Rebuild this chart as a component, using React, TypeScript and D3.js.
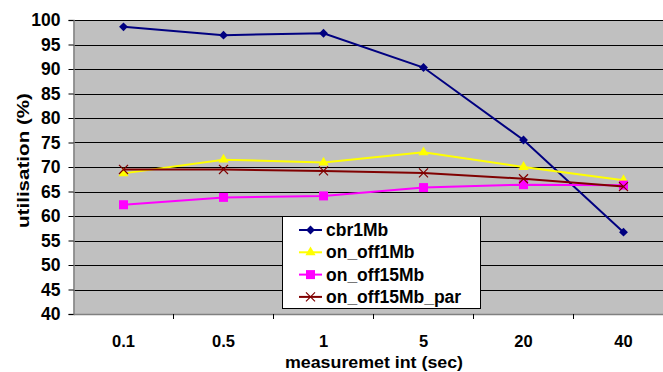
import React, { useEffect, useRef } from 'react';
import * as d3 from 'd3';

const categories = ['0.1', '0.5', '1', '5', '20', '40'];
const cbr1Mb = [98.6, 96.9, 97.3, 90.3, 75.5, 56.7];
const onOff1Mb = [68.7, 71.5, 70.9, 73.0, 70.0, 67.3];
const onOff15Mb = [62.3, 63.8, 64.1, 65.8, 66.4, 66.3];
const onOff15MbPar = [69.5, 69.5, 69.2, 68.8, 67.6, 66.0];
const yTicks = [40, 45, 50, 55, 60, 65, 70, 75, 80, 85, 90, 95, 100];

const series = [
  { name: 'cbr1Mb', values: cbr1Mb, color: '#000080', marker: 'diamond' },
  { name: 'on_off1Mb', values: onOff1Mb, color: '#FFFF00', marker: 'triangle' },
  { name: 'on_off15Mb', values: onOff15Mb, color: '#FF00FF', marker: 'square' },
  { name: 'on_off15Mb_par', values: onOff15MbPar, color: '#800000', marker: 'cross' },
];

const FONT = '"Liberation Sans", Arial, sans-serif';

const App = () => {
  const ref = useRef<SVGSVGElement>(null);

  useEffect(() => {
    const svg = d3.select(ref.current).attr('width', 663).attr('height', 372);
    svg.selectAll('*').remove();

    const left = 73.5, right = 673.5, top = 20, bottom = 314;

    const x = d3.scaleBand<string>().domain(categories).range([left, right]);
    const y = d3.scaleLinear().domain([40, 100]).range([bottom, top]);

    // plot background
    svg.append('rect')
      .attr('x', left).attr('y', top)
      .attr('width', right - left).attr('height', bottom - top)
      .attr('fill', '#C0C0C0');

    // gridlines
    svg.append('g')
      .selectAll('line')
      .data(yTicks.filter(t => t > 40))
      .enter()
      .append('line')
      .attr('x1', left).attr('x2', right)
      .attr('y1', d => Math.round(y(d)) + 0.5)
      .attr('y2', d => Math.round(y(d)) + 0.5)
      .attr('stroke', '#000')
      .attr('stroke-width', 1);

    // y axis
    const yAxis = svg.append('g')
      .attr('transform', `translate(${left},0)`)
      .call(d3.axisLeft(y).tickValues(yTicks).tickSize(5).tickPadding(8));
    yAxis.select('.domain').attr('stroke', '#808080').attr('stroke-width', 1.5);
    yAxis.selectAll('.tick line').attr('stroke', '#000');
    yAxis.selectAll('text')
      .attr('font-family', FONT).attr('font-size', 17.5).attr('font-weight', 'bold').attr('fill', '#000');

    // x axis
    const xAxis = svg.append('g')
      .attr('transform', `translate(0,${bottom})`)
      .call(d3.axisBottom(x).tickSize(0).tickPadding(21));
    xAxis.select('.domain').attr('stroke', '#808080').attr('stroke-width', 1.5);
    xAxis.selectAll('text')
      .attr('font-family', FONT).attr('font-size', 16.5).attr('font-weight', 'bold').attr('fill', '#000');

    // category boundary ticks
    svg.append('g')
      .selectAll('line')
      .data(categories.slice(1))
      .enter()
      .append('line')
      .attr('x1', d => x(d)!).attr('x2', d => x(d)!)
      .attr('y1', bottom).attr('y2', bottom + 5)
      .attr('stroke', '#000');

    const drawMarker = (g: any, type: string, color: string, cx: number, cy: number) => {
      if (type === 'diamond') {
        g.append('path').attr('d', d3.symbol(d3.symbolDiamond2, 50)())
          .attr('transform', `translate(${cx},${cy})`).attr('fill', color);
      } else if (type === 'triangle') {
        g.append('path').attr('d', d3.symbol(d3.symbolTriangle, 45)())
          .attr('transform', `translate(${cx},${cy})`).attr('fill', color);
      } else if (type === 'square') {
        g.append('rect').attr('x', cx - 4.5).attr('y', cy - 4.5)
          .attr('width', 9).attr('height', 9).attr('fill', color);
      } else {
        g.append('path').attr('d', d3.symbol(d3.symbolX, 55)())
          .attr('transform', `translate(${cx},${cy})`)
          .attr('stroke', color).attr('stroke-width', 1.2).attr('fill', 'none');
      }
    };

    const line = d3.line<number>()
      .x((d, i) => x(categories[i])! + x.bandwidth() / 2)
      .y(d => y(d));

    series.forEach(s => {
      const g = svg.append('g');
      g.append('path')
        .datum(s.values)
        .attr('d', line)
        .attr('fill', 'none')
        .attr('stroke', s.color)
        .attr('stroke-width', 2);
      s.values.forEach((v, i) => {
        drawMarker(g, s.marker, s.color, x(categories[i])! + x.bandwidth() / 2, y(v));
      });
    });

    // legend
    const lg = svg.append('g');
    lg.append('rect')
      .attr('x', 282.5).attr('y', 216.5)
      .attr('width', 198).attr('height', 92)
      .attr('fill', '#fff').attr('stroke', '#000').attr('stroke-width', 1);
    series.forEach((s, i) => {
      const ly = 230 + i * 22.3;
      lg.append('line')
        .attr('x1', 299).attr('x2', 322)
        .attr('y1', ly).attr('y2', ly)
        .attr('stroke', s.color).attr('stroke-width', 2);
      drawMarker(lg, s.marker, s.color, 310.5, ly);
      lg.append('text')
        .attr('x', 326).attr('y', ly)
        .attr('dy', '0.35em')
        .attr('font-family', FONT).attr('font-size', 17.5).attr('font-weight', 'bold')
        .text(s.name);
    });

    // axis titles
    svg.append('text')
      .attr('x', 374).attr('y', 368)
      .attr('text-anchor', 'middle')
      .attr('font-family', FONT).attr('font-size', 16).attr('font-weight', 'bold')
      .attr('textLength', 178).attr('lengthAdjust', 'spacingAndGlyphs')
      .text('measuremet int (sec)');

    svg.append('text')
      .attr('transform', 'translate(29,160.5) rotate(-90)')
      .attr('text-anchor', 'middle')
      .attr('font-family', FONT).attr('font-size', 17).attr('font-weight', 'bold')
      .attr('textLength', 135).attr('lengthAdjust', 'spacingAndGlyphs')
      .text('utilisation (%)');
  }, []);

  return <svg ref={ref} style={{ position: 'absolute', left: 0, top: 0 }}></svg>;
};

export default App;
